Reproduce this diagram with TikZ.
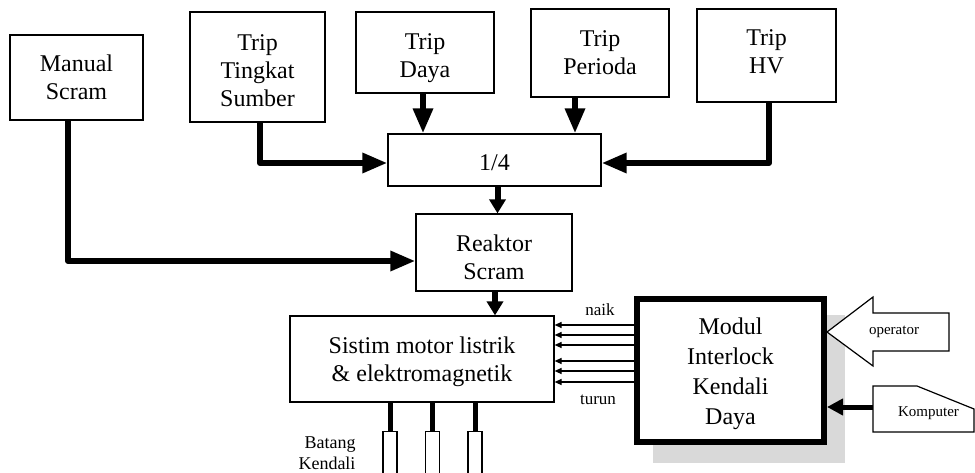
\documentclass[tikz,border=0pt]{standalone}
\usepackage{fontspec}
\setmainfont{Liberation Serif}
\usetikzlibrary{arrows.meta,calc}
\begin{document}
\begin{tikzpicture}[x=1pt,y=-1pt,
  box/.style={draw, line width=1.2pt, fill=white, inner sep=0pt, align=center, font=\fontsize{24}{28}\selectfont},
  thickarr/.style={line width=6pt, line join=round, -{Triangle[length=25pt,width=19pt]}},
  midarr/.style={line width=6pt, -{Triangle[length=14pt,width=16pt]}},
  komparr/.style={line width=5pt, -{Triangle[length=16pt,width=16pt]}},
  thinarr/.style={line width=1.2pt, -{Triangle[length=7pt,width=6pt]}},
  lbl/.style={inner sep=0pt, font=\fontsize{17}{20}\selectfont},
  smalltxt/.style={inner sep=0pt, font=\fontsize{15}{18}\selectfont},
  rod/.style={draw, line width=1.2pt, minimum width=14, minimum height=60, inner sep=0pt, anchor=north},
]
\useasboundingbox (0,0) rectangle (975,473);
\clip (0,0) rectangle (975,473);

% boxes
\node[box, minimum width=133, minimum height=85] (manual) at (76.5,77.5) {Manual\\Scram};
\node[box, minimum width=135, minimum height=110] (tingkat) at (257.5,67) {\rule{0pt}{22.5pt}Trip\\Tingkat\\Sumber};
\node[box, minimum width=138, minimum height=81] (daya) at (425,52.5) {\rule{0pt}{28pt}Trip\\Daya};
\node[box, minimum width=138, minimum height=88] (perioda) at (600,53) {Trip\\Perioda};
\node[box, minimum width=139, minimum height=93] (hv) at (766.5,55.5) {Trip\\HV\rule[-8pt]{0pt}{8pt}};
\node[box, minimum width=213, minimum height=52] (quarter) at (494.5,160) {\rule{0pt}{21.5pt}1/4};
\node[box, minimum width=156, minimum height=77] (reaktor) at (494,252.5) {\rule{0pt}{26pt}Reaktor\\Scram};
\node[box, minimum width=264, minimum height=86] (sistim) at (422,359) {\rule{0pt}{21.5pt}Sistim motor listrik\\\& elektromagnetik};

% shadow + modul
\fill[gray!30] (653,315) rectangle (845,463);
\node[box, line width=6pt, minimum width=187, minimum height=143, font=\fontsize{24}{30}\selectfont] (modul) at (730.5,370.5) {\rule{0pt}{22.5pt}Modul\\Interlock\\Kendali\\Daya};

% main connectors
\draw[thickarr] ([xshift=-8.5pt]manual.south) |- ([yshift=-8.5pt]reaktor.west);
\draw[thickarr] ([xshift=2.5pt]tingkat.south) |- ([yshift=-3pt]quarter.west);
\draw[thickarr] ([xshift=-2pt]daya.south) -- ([xshift=-2pt]daya.south |- quarter.north);
\draw[thickarr] ([xshift=-25pt]perioda.south) -- ([xshift=-25pt]perioda.south |- quarter.north);
\draw[thickarr] ([xshift=2.5pt]hv.south) |- ([yshift=-3pt]quarter.east);
\draw[midarr] ([xshift=3pt]quarter.south) -- ([xshift=3pt]quarter.south |- reaktor.north);
\draw[midarr] ([xshift=1pt]reaktor.south) -- ([xshift=1pt]reaktor.south |- sistim.north);

% six control lines
\foreach \yy in {325,335,345,361,371,382} {
  \path (0,\yy) coordinate (h\yy);
  \draw[thinarr] (modul.west |- h\yy) -- (sistim.east |- h\yy);
}
\node[lbl] (naik) at (600,310) {naik};
\node[lbl] (turun) at (598,400) {turun};

% control rods
\node[rod] (rod1) at (390,431) {};
\node[rod] (rod2) at (432.5,431) {};
\node[rod] (rod3) at (475,431) {};
\foreach \r in {rod1,rod2,rod3} {
  \draw[line width=5pt] (sistim.south -| \r.north) -- (\r.north);
}
\node[lbl, align=right, font=\fontsize{18}{21}\selectfont] (batang) at (327,453.5) {Batang\\Kendali};

% operator arrow
\draw[line width=1.2pt, fill=white] (827,332) -- (873,297) -- (873,313) -- (949,313) -- (949,351) -- (873,351) -- (873,366) -- cycle;
\node[smalltxt] (oper) at (894,332) {operator};

% komputer
\draw[line width=1.2pt, fill=white] (873,386) -- (917,386) -- (974,409) -- (974,432) -- (873,432) -- cycle;
\node[smalltxt] (komp) at (928.5,413) {Komputer};
\coordinate (kin) at (873,407);
\draw[komparr] (kin) -- (kin -| modul.east);
\end{tikzpicture}
\end{document}
